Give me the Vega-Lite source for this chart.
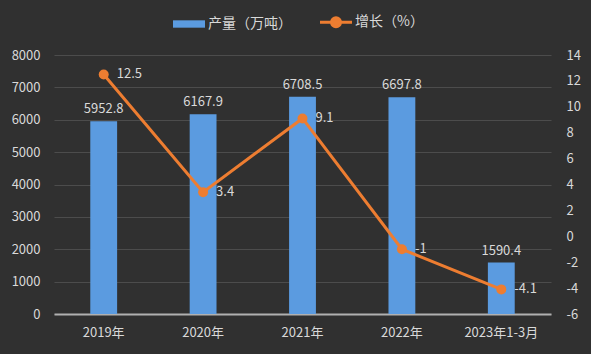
{
  "$schema": "https://vega.github.io/schema/vega-lite/v6.json",
  "autosize": {"type": "none"},
  "width": 497,
  "height": 259,
  "padding": {"left": 54, "top": 55, "right": 40, "bottom": 40},
  "background": "#303030",
  "config": {
    "view": {"stroke": null},
    "font": "Noto Sans CJK SC",
    "axis": {"labelColor": "#d9d9d9", "labelFontSize": 13, "ticks": false, "domain": false, "titleColor": "#d9d9d9", "labelOverlap": false},
    "legend": {"labelColor": "#d9d9d9", "labelFontSize": 14}
  },
  "data": {
    "values": [
      {"year": "2019年", "output": 5952.8, "growth": 12.5},
      {"year": "2020年", "output": 6167.9, "growth": 3.4},
      {"year": "2021年", "output": 6708.5, "growth": 9.1},
      {"year": "2022年", "output": 6697.8, "growth": -1},
      {"year": "2023年1-3月", "output": 1590.4, "growth": -4.1}
    ]
  },
  "encoding": {
    "x": {
      "field": "year", "type": "nominal", "sort": null,
      "scale": {"paddingInner": 0.73, "paddingOuter": 0.365},
      "axis": {"title": null, "labelAngle": 0, "labelPadding": 12, "domain": true, "domainColor": "#b0b0b0", "domainWidth": 2, "grid": false}
    }
  },
  "layer": [
    {
      "encoding": {
        "y": {
          "field": "output", "type": "quantitative",
          "scale": {"domain": [0, 8000], "nice": false},
          "axis": {"title": null, "values": [0,1000,2000,3000,4000,5000,6000,7000,8000], "labelOverlap": false, "labelExpr": "toString(datum.value)", "labelPadding": 14, "grid": true, "gridColor": "#4c4c4c", "gridWidth": 1}
        }
      },
      "layer": [
        {
          "mark": {"type": "bar"},
          "encoding": {
            "color": {
              "datum": "产量（万吨）", "type": "nominal",
              "scale": {"domain": ["产量（万吨）", "增长（%）"], "range": ["#5b9be0", "#ed7d31"]},
              "legend": {
                "title": null, "orient": "none", "legendX": 128, "legendY": -40, "direction": "horizontal",
                "columnPadding": 22, "labelOffset": 12, "symbolSize": 1024,
                "encode": {
                  "symbols": {
                    "update": {
                      "shape": {"signal": "datum.value === '产量（万吨）' ? 'M-1,-0.23H1V0.23H-1Z' : 'M-1,0H1M-0.28,0A0.28,0.28 0 1,0 0.28,0A0.28,0.28 0 1,0 -0.28,0'"},
                      "fill": {"signal": "datum.value === '产量（万吨）' ? '#5b9be0' : '#ed7d31'"},
                      "stroke": {"signal": "datum.value === '产量（万吨）' ? '#5b9be0' : '#ed7d31'"},
                      "strokeWidth": {"signal": "datum.value === '产量（万吨）' ? 0 : 3"},
                      "opacity": {"value": 1},
                      "fillOpacity": {"value": 1}
                    }
                  }
                }
              }
            }
          }
        },
        {
          "mark": {"type": "text", "baseline": "bottom", "dy": -5, "color": "#d9d9d9", "fontSize": 13},
          "encoding": {
            "text": {"field": "output", "type": "quantitative", "format": ".1f"}
          }
        }
      ]
    },
    {
      "encoding": {
        "y": {
          "field": "growth", "type": "quantitative",
          "scale": {"domain": [-6, 14], "nice": false},
          "axis": {"title": null, "orient": "right", "values": [-6,-4,-2,0,2,4,6,8,10,12,14], "labelOverlap": false, "labelExpr": "toString(datum.value)", "labelPadding": 15, "grid": false}
        }
      },
      "layer": [
        {
          "mark": {"type": "line", "strokeWidth": 3, "point": {"filled": true, "size": 100, "color": "#ed7d31"}},
          "encoding": {
            "color": {"datum": "增长（%）", "type": "nominal"}
          }
        },
        {
          "mark": {"type": "text", "align": "left", "baseline": "middle", "dx": 13, "color": "#d9d9d9", "fontSize": 13},
          "encoding": {
            "text": {"field": "growth", "type": "nominal"}
          }
        }
      ]
    }
  ],
  "resolve": {"scale": {"y": "independent"}}
}
